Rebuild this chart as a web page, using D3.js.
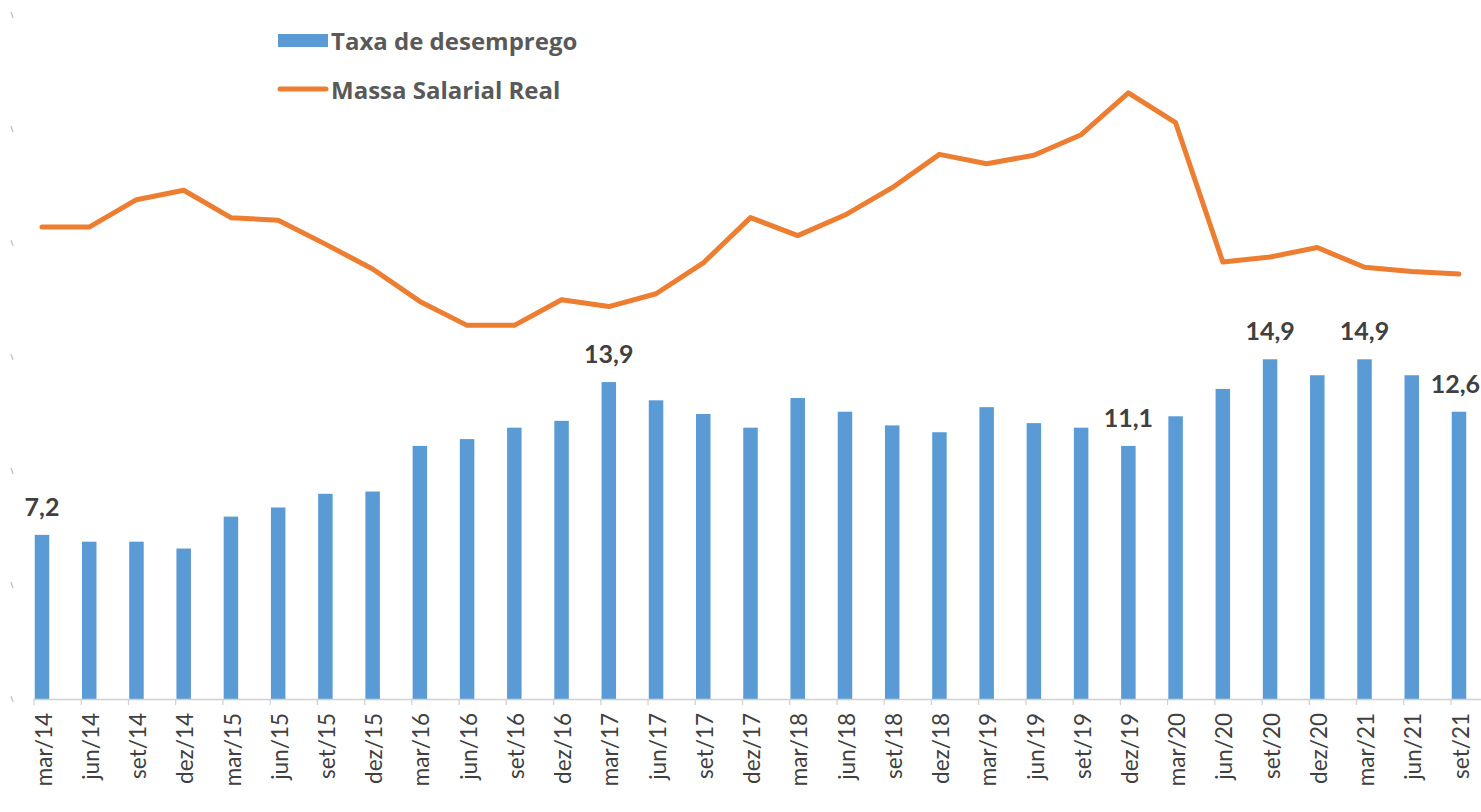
<!DOCTYPE html>
<html>
<head>
<meta charset="utf-8">
<script src="https://cdn.jsdelivr.net/npm/d3@7"></script>
<style>
  body { margin: 0; background: #ffffff; }
  svg { display: block; }
</style>
</head>
<body>
<svg id="chart" width="1481" height="812"></svg>
<script>
// Trimestres (PNAD Contínua)
const categories = [
  "mar/14", "jun/14", "set/14", "dez/14",
  "mar/15", "jun/15", "set/15", "dez/15",
  "mar/16", "jun/16", "set/16", "dez/16",
  "mar/17", "jun/17", "set/17", "dez/17",
  "mar/18", "jun/18", "set/18", "dez/18",
  "mar/19", "jun/19", "set/19", "dez/19",
  "mar/20", "jun/20", "set/20", "dez/20",
  "mar/21", "jun/21", "set/21"
];

// Taxa de desemprego (%)
const desemprego = [
  7.2, 6.9, 6.9, 6.6,
  8.0, 8.4, 9.0, 9.1,
  11.1, 11.4, 11.9, 12.2,
  13.9, 13.1, 12.5, 11.9,
  13.2, 12.6, 12.0, 11.7,
  12.8, 12.1, 11.9, 11.1,
  12.4, 13.6, 14.9, 14.2,
  14.9, 14.2, 12.6
];

// Massa salarial real (R$ bilhões)
const massaSalarial = [
  215.2, 215.2, 218.4, 219.5,
  216.3, 216.0, 213.2, 210.3,
  206.5, 203.7, 203.7, 206.7,
  205.9, 207.4, 211.0, 216.3,
  214.2, 216.6, 219.8, 223.7,
  222.6, 223.6, 226.0, 230.9,
  227.4, 211.1, 211.7, 212.8,
  210.5, 210.0, 209.7
];

// Trimestres com rótulo de valor
const labeledQuarters = ["mar/14", "mar/17", "dez/19", "set/20", "mar/21", "set/21"];

// Eixos
const leftTicks = [0, 5, 10, 15, 20, 25, 30];
const leftDomain = [0, 30];
const rightDomain = [160, 240];

const seriesNames = ["Taxa de desemprego", "Massa Salarial Real"];

const BLUE = "#5B9BD5";
const ORANGE = "#ED7D31";
const FONT = "Lato, 'Open Sans', sans-serif";
const WIDTH = 1481;

const svg = d3.select("#chart");

const x = d3.scalePoint().domain(categories).range([42, 1459]);
const barW = 14.5;
const tickShift = -8.5;

const yL = d3.scaleLinear().domain(leftDomain).range([699, 15]);
const yR = d3.scaleLinear().domain(rightDomain).range([699, 15]);

// Marcas do eixo esquerdo junto à borda
svg.append("g").selectAll("line")
  .data(leftTicks)
  .join("line")
  .attr("x1", 11).attr("x2", 13)
  .attr("y1", (d) => yL(d) - 3).attr("y2", (d) => yL(d) + 3)
  .attr("stroke", "#c8c8c8")
  .attr("stroke-width", 1.5);

// Barras
svg.append("g").selectAll("rect")
  .data(categories)
  .join("rect")
  .attr("x", (c) => x(c) - barW / 2)
  .attr("width", barW)
  .attr("y", (c, i) => yL(desemprego[i]))
  .attr("height", (c, i) => yL(0) - yL(desemprego[i]))
  .attr("fill", BLUE);

// Eixo das categorias
const xAxis = svg.append("g")
  .attr("transform", `translate(0,${yL(0)})`)
  .call(d3.axisBottom(x).tickSize(6).tickPadding(0));
xAxis.select(".domain")
  .attr("d", `M${x(categories[0]) + tickShift},0.5H${WIDTH}`)
  .attr("stroke", "#d0d0d0")
  .attr("stroke-width", 1.5);
xAxis.selectAll(".tick line")
  .attr("x1", tickShift).attr("x2", tickShift)
  .attr("stroke", "#d0d0d0")
  .attr("stroke-width", 1.2);
xAxis.selectAll(".tick text")
  .attr("transform", "rotate(-90)")
  .attr("x", -14)
  .attr("y", 1)
  .attr("dy", "0.36em")
  .attr("text-anchor", "end")
  .attr("fill", "#404040")
  .style("font-family", FONT)
  .style("font-size", "22.5px");

// Linha da massa salarial
const line = d3.line()
  .x((d, i) => x(categories[i]))
  .y((d) => yR(d));

svg.append("path")
  .datum(massaSalarial)
  .attr("d", line)
  .attr("fill", "none")
  .attr("stroke", ORANGE)
  .attr("stroke-width", 5)
  .attr("stroke-linejoin", "round")
  .attr("stroke-linecap", "round");

// Rótulos de valor (mantidos dentro da área do gráfico)
svg.append("g").selectAll("text")
  .data(categories.map((c, i) => ({ c, v: desemprego[i] })).filter(d => labeledQuarters.includes(d.c)))
  .join("text")
  .attr("y", (d) => yL(d.v) - 19)
  .attr("text-anchor", "middle")
  .attr("fill", "#404040")
  .style("font-family", FONT)
  .style("font-weight", "bold")
  .style("font-size", "25px")
  .text((d) => d.v.toFixed(1).replace(".", ","))
  .attr("x", function (d) {
    const half = this.getComputedTextLength() / 2;
    return Math.min(x(d.c), WIDTH - 1 - half);
  });

// Legenda
const legend = svg.append("g").attr("transform", "translate(278,0)");
legend.append("rect")
  .attr("x", 0).attr("y", 34).attr("width", 50).attr("height", 13)
  .attr("fill", BLUE);
legend.append("line")
  .attr("x1", 2).attr("x2", 48).attr("y1", 89).attr("y2", 89)
  .attr("stroke", ORANGE).attr("stroke-width", 5).attr("stroke-linecap", "round");
legend.selectAll("text")
  .data(seriesNames)
  .join("text")
  .attr("x", 53)
  .attr("y", (d, i) => 41 + i * 49)
  .attr("dy", "0.36em")
  .attr("fill", "#595959")
  .style("font-family", "'Open Sans', Lato, sans-serif")
  .style("font-weight", "bold")
  .style("font-size", "24px")
  .text((d) => d);
</script>
</body>
</html>
